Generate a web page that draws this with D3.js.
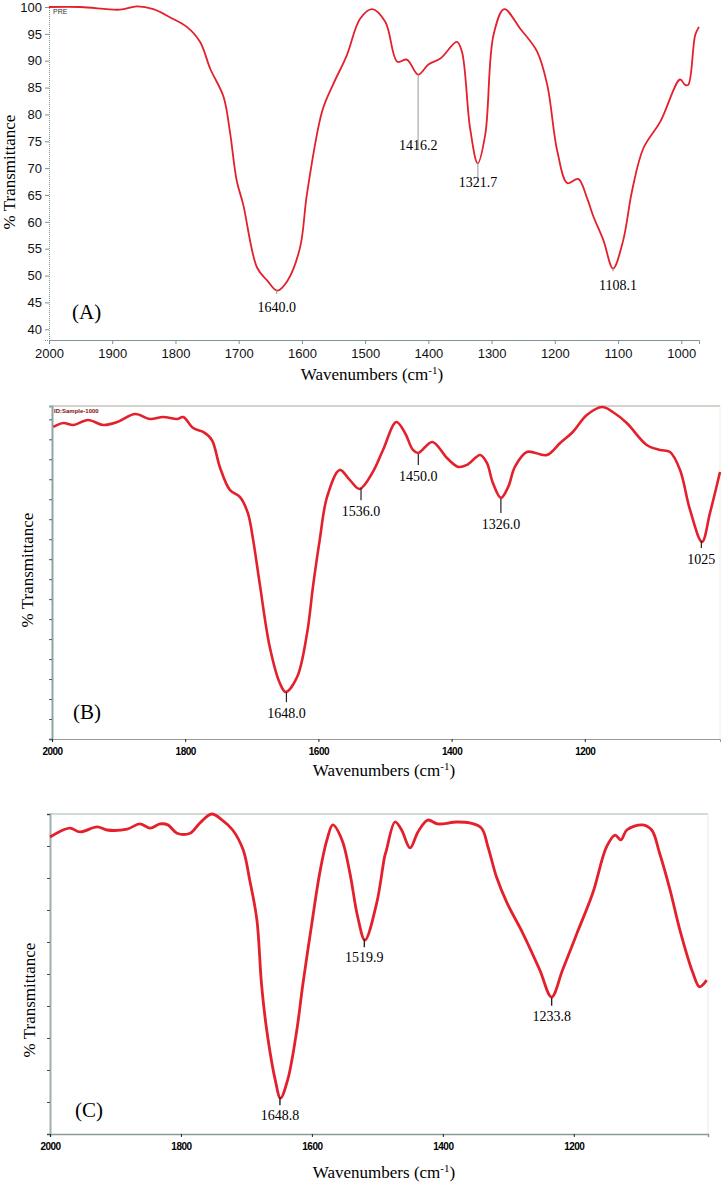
<!DOCTYPE html>
<html><head><meta charset="utf-8">
<script src="https://cdn.jsdelivr.net/npm/d3@7"></script>
<style>body{margin:0;background:#fff}svg{display:block}</style>
</head><body>
<svg id="c" width="722" height="1184"></svg>
<script>
// ---------- DATA ----------
// Panel A
const aWave  = [2000,1950,1888,1861,1835,1809,1782,1761,1745,1724,1714,1703,1693,1671,1655,1639,1623,1603,1592,1568,1551,1529,1508,1489,1468,1449,1434,1416,1400,1381,1355,1347,1334,1322,1310,1297,1280,1255,1228,1212,1196,1180,1163,1149,1139,1123,1108,1092,1078,1060,1033,1002,994,989,978,972];
const aTrans = [100,100,99.5,100.1,99.6,98.1,96.3,93.5,88.5,83.3,76.9,67.6,63.3,51.5,49.1,47.2,49,55.2,65.2,80.6,85.5,91,97.8,99.6,97.2,89.8,90.2,87.4,89.3,90.4,93.5,91.7,77.4,70.9,76.3,94.8,99.6,96,91.7,85.5,73.1,67.2,68,64.4,61,56.5,51.3,56.5,65.7,73.7,78.7,86.5,85.5,85.5,94.8,96.3];
const aXTicks = [2000,1900,1800,1700,1600,1500,1400,1300,1200,1100,1000];
const aYTicks = [40,45,50,55,60,65,70,75,80,85,90,95,100];
const aPeaks = [1640.0,1416.2,1321.7,1108.1];
const aPeakLabels = ["1640.0","1416.2","1321.7","1108.1"];
// Panel B
const bWave  = [1998,1983,1968,1946,1923,1902,1875,1853,1833,1812,1803,1788,1773,1760,1748,1733,1718,1706,1698,1688,1673,1658,1649,1632,1617,1608,1598,1587,1568,1553,1538,1518,1503,1483,1470,1458,1450,1429,1407,1390,1377,1357,1347,1338,1326,1315,1305,1287,1257,1237,1218,1197,1174,1158,1137,1107,1087,1072,1057,1042,1024,1012,997];
const bTrans = [93.7,94.9,94.3,95.8,94.3,95.2,97.6,96.1,96.7,96.1,96.7,93.4,92.2,89.8,81.7,74.8,72.7,67.9,59.8,46.5,27.6,16.8,14.1,18.6,31.8,46,59.8,72.7,80.8,77.8,75.1,80.3,86.8,95.2,91.9,86.8,85.9,89.2,84.4,81.7,82.3,85.3,82.9,76.9,72.4,75.7,81.7,86.2,85.3,88.9,92.2,97.3,99.7,98.2,94.9,88.3,86.8,86.2,80.8,68.8,59.2,67.9,80.2];
const bXTicks = [2000,1800,1600,1400,1200];
const bPeaks = [1648.0,1536.0,1450.0,1326.0,1025];
const bPeakLabels = ["1648.0","1536.0","1450.0","1326.0","1025"];
// Panel C
const cWave  = [2000,1980,1969,1954,1928,1913,1882,1863,1847,1832,1820,1806,1786,1771,1753,1737,1721,1705,1695,1684,1677,1669,1656,1648,1637,1623,1614,1600,1588,1577,1568,1554,1542,1530,1519,1501,1489,1486,1473,1463,1450,1438,1423,1408,1379,1359,1341,1331,1318,1302,1278,1252,1234,1217,1195,1171,1150,1137,1128,1119,1095,1081,1069,1053,1038,1018,1008,997];
const cTrans = [92.8,95,95.6,94.4,96,95,95.3,96.9,95.6,96.9,96.6,94,94,97.2,100,98.1,95,88.8,79.4,66.9,47,32.5,16.9,11.2,16.9,32.5,46.5,65.9,81.6,91.9,96.6,91.9,81.6,67.8,60.6,72.2,86.6,88.8,97.5,95,89.4,94.4,98.1,96.9,97.5,97.2,95.6,89.7,80.3,72.2,62.8,51.3,42.8,51.3,62.8,75.3,89.7,93.4,91.9,95,96.6,95,87.8,76.3,63.8,50.3,46,48.1];
const cXTicks = [2000,1800,1600,1400,1200];
const cPeaks = [1648.8,1519.9,1233.8];
const cPeakLabels = ["1648.8","1519.9","1233.8"];

// ---------- DRAW ----------
const svg = d3.select("#c");
const RED = "#e3202b";
const serif = "'Liberation Serif','Times New Roman',serif";
const sans = "'Liberation Sans',Arial,sans-serif";

function interp(wv, tr, w){
  for(let i=0;i<wv.length-1;i++){
    if((wv[i]>=w && wv[i+1]<=w)){ const t=(wv[i]-w)/(wv[i]-wv[i+1]); return tr[i]+t*(tr[i+1]-tr[i]); }
  }
  return tr[tr.length-1];
}

function yTitle(x, y){
  svg.append("text").attr("transform",`translate(${x},${y}) rotate(-90)`)
    .attr("text-anchor","middle").attr("font-family",serif).attr("font-size",17)
    .text("% Transmittance");
}
function xTitle(x, y){
  const t = svg.append("text").attr("x",x).attr("y",y).attr("text-anchor","middle")
    .attr("font-family",serif).attr("font-size",17);
  t.append("tspan").text("Wavenumbers (cm");
  t.append("tspan").attr("dy",-6).attr("font-size",11).text("-1");
  t.append("tspan").attr("dy",6).text(")");
}

// ===== Panel A =====
{
  const x = d3.scaleLinear().domain([2000,972]).range([49,699]);
  const y = d3.scaleLinear().domain([38,100]).range([340,7]);
  // y axis
  const gy = svg.append("g").attr("transform","translate(49,0)");
  gy.call(d3.axisLeft(y).tickValues(d3.range(38,101,1)).tickSize(2).tickFormat(""));
  gy.call(d3.axisLeft(y).tickValues(aYTicks).tickSize(4).tickFormat(d3.format("d")));
  gy.selectAll("path").attr("stroke","#7d9494").attr("stroke-dasharray","1,1");
  gy.selectAll("line").attr("stroke","#7d9494");
  gy.selectAll("text").attr("font-family",sans).attr("font-size",13).attr("fill","#111");
  // x axis
  const gx = svg.append("g").attr("transform","translate(0,340)");
  gx.call(d3.axisBottom(x).tickValues(d3.range(2000,971,-20)).tickSize(2).tickFormat(""));
  gx.call(d3.axisBottom(x).tickValues(aXTicks).tickSize(4).tickFormat(d3.format("d")).tickPadding(5));
  gx.selectAll("path").attr("stroke","#7d9494");
  gx.selectAll("line").attr("stroke","#7d9494");
  gx.selectAll("text").attr("font-family",sans).attr("font-size",13).attr("fill","#111");
  // curve
  svg.append("path").datum(aWave.map((w,i)=>[w,aTrans[i]]))
    .attr("fill","none").attr("stroke",RED).attr("stroke-width",1.8)
    .attr("d",d3.line().x(d=>x(d[0])).y(d=>y(d[1])).curve(d3.curveCatmullRom.alpha(0.5)));
  // peaks
  const labelDY = [22,75,24,22];
  const lineLen = [4,75,17,3];
  const lblDX = [0,0,0,5];
  aPeaks.forEach((p,i)=>{
    const px=x(p), py=y(interp(aWave,aTrans,p));
    svg.append("line").attr("x1",px).attr("x2",px).attr("y1",py).attr("y2",py+lineLen[i]).attr("stroke","#999").attr("stroke-width",1);
    svg.append("text").attr("x",px+lblDX[i]).attr("y",py+labelDY[i]).attr("text-anchor","middle")
      .attr("font-family",serif).attr("font-size",14).text(aPeakLabels[i]);
  });
  svg.append("text").attr("x",72).attr("y",319).attr("font-family",serif).attr("font-size",21).text("(A)");
  svg.append("text").attr("x",53).attr("y",14).attr("font-family",sans).attr("font-size",7).attr("fill","#333").text("PRE");
  yTitle(15,172);
  xTitle(372,380);
}

// ===== Panel B =====
{
  const x = d3.scaleLinear().domain([2000,997]).range([52,720]);
  const y = d3.scaleLinear().domain([0,100]).range([739,406]);
  svg.append("line").attr("x1",52).attr("x2",720).attr("y1",406).attr("y2",406).attr("stroke","#a8a89a");
  svg.append("line").attr("x1",720).attr("x2",720).attr("y1",406).attr("y2",739).attr("stroke","#eeeedd");
  const gy = svg.append("g").attr("transform","translate(52,0)");
  gy.call(d3.axisLeft(y).tickValues(d3.range(0,101,1)).tickSize(1).tickFormat(""));
  gy.call(d3.axisLeft(y).tickValues(d3.range(0,101,6)).tickSize(3).tickFormat(""));
  gy.selectAll("path").attr("stroke","#8aa6a6").attr("stroke-width",2);
  gy.selectAll("line").attr("stroke","#557");
  const gx = svg.append("g").attr("transform","translate(0,739)");
  gx.call(d3.axisBottom(x).tickValues(d3.range(2000,996,-50)).tickSize(2).tickFormat(""));
  gx.call(d3.axisBottom(x).tickValues(bXTicks).tickSize(3).tickFormat(d3.format("d")).tickPadding(6));
  gx.selectAll("path").attr("stroke","#999");
  gx.selectAll("line").attr("stroke","#222");
  gx.selectAll("text").attr("font-family",sans).attr("font-size",10).attr("font-weight","bold").attr("fill","#000").attr("letter-spacing","-0.5");
  svg.append("path").datum(bWave.map((w,i)=>[w,bTrans[i]]))
    .attr("fill","none").attr("stroke",RED).attr("stroke-width",2.6)
    .attr("d",d3.line().x(d=>x(d[0])).y(d=>y(d[1])).curve(d3.curveCatmullRom.alpha(0.5)));
  const lineLen = [11,13,12,15,8];
  bPeaks.forEach((p,i)=>{
    const px=x(p), py=y(interp(bWave,bTrans,p));
    svg.append("line").attr("x1",px).attr("x2",px).attr("y1",py+1).attr("y2",py+lineLen[i]).attr("stroke","#222").attr("stroke-width",1.2);
    svg.append("text").attr("x",px).attr("y",py+lineLen[i]+16).attr("text-anchor","middle")
      .attr("font-family",serif).attr("font-size",14).text(bPeakLabels[i]);
  });
  svg.append("text").attr("x",73).attr("y",719).attr("font-family",serif).attr("font-size",21).text("(B)");
  svg.append("text").attr("x",54).attr("y",413).attr("font-family",sans).attr("font-size",6).attr("font-weight","bold").attr("fill","#7a1010").text("ID:Sample-1000");
  yTitle(33,570);
  xTitle(384,776);
}

// ===== Panel C =====
{
  const x = d3.scaleLinear().domain([2000,995]).range([50,708]);
  const y = d3.scaleLinear().domain([0,100]).range([1134,814]);
  svg.append("line").attr("x1",50).attr("x2",708).attr("y1",814).attr("y2",814).attr("stroke","#c2ccc6").attr("stroke-width",1.5);
  svg.append("line").attr("x1",708).attr("x2",708).attr("y1",814).attr("y2",1134).attr("stroke","#e8ece8");
  const gy = svg.append("g").attr("transform","translate(50,0)");
  gy.call(d3.axisLeft(y).tickValues(d3.range(0,101,2.5)).tickSize(1).tickFormat(""));
  gy.call(d3.axisLeft(y).tickValues(d3.range(0,101,10)).tickSize(3).tickFormat(""));
  gy.selectAll("path").attr("stroke","#9fb0ae").attr("stroke-width",2);
  gy.selectAll("line").attr("stroke","#445");
  const gx = svg.append("g").attr("transform","translate(0,1134)");
  gx.call(d3.axisBottom(x).tickValues(d3.range(2000,994,-50)).tickSize(2).tickFormat(""));
  gx.call(d3.axisBottom(x).tickValues(cXTicks).tickSize(3).tickFormat(d3.format("d")).tickPadding(6));
  gx.selectAll("path").attr("stroke","#8a9a98").attr("stroke-width",1.5);
  gx.selectAll("line").attr("stroke","#222");
  gx.selectAll("text").attr("font-family",sans).attr("font-size",10).attr("font-weight","bold").attr("fill","#000").attr("letter-spacing","-0.5");
  svg.append("path").datum(cWave.map((w,i)=>[w,cTrans[i]]))
    .attr("fill","none").attr("stroke",RED).attr("stroke-width",2.8)
    .attr("d",d3.line().x(d=>x(d[0])).y(d=>y(d[1])).curve(d3.curveCatmullRom.alpha(0.5)));
  cPeaks.forEach((p,i)=>{
    const px=x(p), py=y(interp(cWave,cTrans,p));
    svg.append("line").attr("x1",px).attr("x2",px).attr("y1",py+1).attr("y2",py+9).attr("stroke","#222").attr("stroke-width",1.4);
    svg.append("text").attr("x",px).attr("y",py+24).attr("text-anchor","middle")
      .attr("font-family",serif).attr("font-size",14).text(cPeakLabels[i]);
  });
  svg.append("text").attr("x",75).attr("y",1117).attr("font-family",serif).attr("font-size",21).text("(C)");
  yTitle(35,1000);
  xTitle(384,1178);
}
</script>
</body></html>
